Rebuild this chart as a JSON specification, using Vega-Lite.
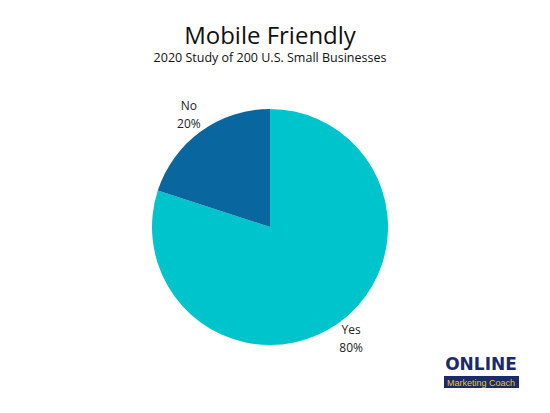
{
  "$schema": "https://vega.github.io/schema/vega-lite/v6.json",
  "autosize": "none",
  "width": 540,
  "height": 294,
  "padding": {"top": 80, "left": 0, "right": 10, "bottom": 39},
  "background": "white",
  "config": {"view": {"stroke": null}, "font": "Open Sans"},
  "title": {
    "text": "Mobile Friendly",
    "subtitle": "2020 Study of 200 U.S. Small Businesses",
    "anchor": "middle",
    "font": "Open Sans",
    "fontSize": 24,
    "fontWeight": "normal",
    "color": "#111111",
    "subtitleFont": "Open Sans",
    "subtitleFontSize": 12.5,
    "subtitleColor": "#111111",
    "subtitlePadding": 3,
    "offset": 16
  },
  "layer": [
    {
      "data": {"values": [
        {"answer": "Yes", "value": 80, "pct": "80%"},
        {"answer": "No", "value": 20, "pct": "20%"}
      ]},
      "encoding": {
        "theta": {"field": "value", "type": "quantitative", "stack": true},
        "order": {"field": "value", "type": "quantitative", "sort": "descending"}
      },
      "layer": [
        {
          "mark": {"type": "arc", "outerRadius": 118},
          "encoding": {
            "color": {
              "field": "answer",
              "type": "nominal",
              "scale": {"domain": ["Yes", "No"], "range": ["#00C4CC", "#0A669F"]},
              "legend": null
            }
          }
        },
        {
          "mark": {"type": "text", "radius": 138, "dy": -9, "fontSize": 12, "color": "#222222", "font": "Open Sans"},
          "encoding": {
            "detail": {"field": "answer", "type": "nominal"},
            "text": {"field": "answer", "type": "nominal"}
          }
        },
        {
          "mark": {"type": "text", "radius": 138, "dy": 9, "fontSize": 12, "color": "#222222", "font": "Open Sans"},
          "encoding": {
            "detail": {"field": "answer", "type": "nominal"},
            "text": {"field": "pct", "type": "nominal"}
          }
        }
      ]
    },
    {
      "data": {"values": [{"brand": "ONLINE", "tag": "Marketing Coach"}]},
      "layer": [
        {
          "mark": {"type": "rect", "x": 444, "x2": 519, "y": 296, "y2": 308, "color": "#1B2A6B"},
          "encoding": {}
        },
        {
          "mark": {"type": "text", "x": 481, "y": 285, "fontSize": 17, "fontWeight": "bold", "font": "DejaVu Sans", "color": "#1B2A6B", "baseline": "middle"},
          "encoding": {"text": {"field": "brand", "type": "nominal"}}
        },
        {
          "mark": {"type": "text", "x": 481, "y": 302.5, "fontSize": 9, "font": "Liberation Sans", "color": "#EFC51F", "baseline": "middle"},
          "encoding": {"text": {"field": "tag", "type": "nominal"}}
        }
      ]
    }
  ]
}
